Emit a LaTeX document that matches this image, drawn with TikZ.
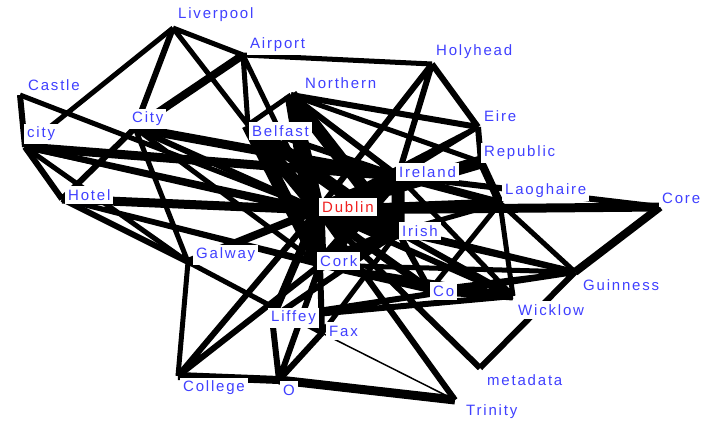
\documentclass[tikz,border=0pt]{standalone}
\usepackage{fontspec}
\newfontfamily\lblfont[LetterSpace=12]{Liberation Sans}
\usetikzlibrary{positioning}
\definecolor{lblblue}{RGB}{64,64,255}
\definecolor{lblred}{RGB}{240,32,32}
\tikzset{
  every picture/.style={line join=round},
  lbl/.style={fill=white,inner xsep=3pt,inner ysep=3.5pt,anchor=west,text=lblblue,font=\lblfont\fontsize{15}{18}\selectfont},
  hub/.style={lbl,text=lblred},
}
\begin{document}
\begin{tikzpicture}[x=1pt,y=-1pt]
\useasboundingbox(0,0)rectangle(706,423);
\coordinate(liverpool)at(173,28);
\coordinate(airport)at(243,55);
\coordinate(holyhead)at(432,64);
\coordinate(castle)at(20,95);
\coordinate(northern)at(291,95);
\coordinate(ucity)at(135,128);
\coordinate(lcity)at(25,147);
\coordinate(belfast)at(248,125);
\coordinate(eire)at(478,127);
\coordinate(republic)at(481,162);
\coordinate(ireland)at(398,176);
\coordinate(hotel)at(62,199);
\coordinate(laoghaire)at(500,203);
\coordinate(core)at(660,207);
\coordinate(dublin)at(318,210);
\coordinate(irish)at(398,232);
\coordinate(galway)at(188,262);
\coordinate(cork)at(320,265);
\coordinate(guinness)at(575,272);
\coordinate(co)at(430,290);
\coordinate(wicklow)at(513,296);
\coordinate(liffey)at(272,318);
\coordinate(fax)at(322,333);
\coordinate(college)at(178,376);
\coordinate(metadata)at(480,368);
\coordinate(o)at(279,380);
\coordinate(trinity)at(455,400);
\draw[line width=1.5pt](fax)--(trinity);
\draw[line width=5pt](liverpool)--(airport)(liverpool)--(belfast)(liverpool)--(lcity)
(airport)--(belfast)(airport)--(dublin)(airport)--(holyhead)(castle)--(dublin)
(ucity)--(galway)(lcity)--(galway)(hotel)--(cork)(northern)--(republic)
(republic)--(ireland)(eire)--(dublin)(eire)--(ireland)(laoghaire)--(wicklow)
(laoghaire)--(guinness)(laoghaire)--(co)(ireland)--(wicklow)(irish)--(laoghaire)
(irish)--(fax)(galway)--(college)(galway)--(fax)(cork)--(guinness)(co)--(guinness)
(northern)--(belfast)(hotel)--(co)(ucity)--(cork)(lcity)--(irish);
\draw[line width=6pt](liverpool)--(ucity)(castle)--(lcity)(lcity)--(hotel)
(lcity)--(dublin)(ucity)--(hotel)(ucity)--(dublin)(hotel)--(galway)
(northern)--(eire)(northern)--(ireland)(holyhead)--(eire)(holyhead)--(ireland)
(holyhead)--(dublin)(eire)--(republic)(belfast)--(ireland)(ireland)--(core)
(dublin)--(guinness)(dublin)--(wicklow)(dublin)--(college)(dublin)--(trinity)
(dublin)--(metadata)(irish)--(guinness)(irish)--(co)(irish)--(wicklow)
(irish)--(liffey)(cork)--(co)(cork)--(wicklow)(cork)--(fax)(cork)--(college)
(cork)--(o)(guinness)--(metadata)(liffey)--(o)(fax)--(o)(liffey)--(wicklow)
(liffey)--(guinness);
\draw[line width=8pt](airport)--(ucity)(republic)--(laoghaire)(ireland)--(laoghaire)
(dublin)--(galway)(dublin)--(liffey)(dublin)--(co)(guinness)--(core)(college)--(o);
\draw[line width=9pt](lcity)--(ireland)(ucity)--(ireland)(hotel)--(dublin)
(dublin)--(core)(dublin)--(laoghaire)(o)--(trinity)(co)--(wicklow);
\draw[line width=13pt](belfast)--(dublin)(northern)--(dublin)(ireland)--(dublin)
(dublin)--(irish)(dublin)--(cork)(belfast)--(cork)(northern)--(cork)
(northern)--(irish)(belfast)--(irish)(ireland)--(irish)(ireland)--(cork)
(irish)--(cork)(dublin)--(republic);
\node[lbl](liverpoolL)at(175,15){Liverpool};
\node[lbl](airportL)at(247,45){Airport};
\node[lbl](holyheadL)at(433,52){Holyhead};
\node[lbl](castleL)at(25,85){Castle};
\node[lbl](northernL)at(302,83){Northern};
\node[lbl](ucityL)at(129,119){City};
\node[lbl](lcityL)at(24,134){city};
\node[lbl](belfastL)at(249,131){Belfast};
\node[lbl](eireL)at(481,116){Eire};
\node[lbl](republicL)at(481,153){Republic};
\node[lbl](irelandL)at(396,172){Ireland};
\node[lbl](hotelL)at(65,195){Hotel};
\node[lbl](laoghaireL)at(502,191){Laoghaire};
\node[lbl](coreL)at(659,198){Core};
\node[hub](dublinL)at(319,207){Dublin};
\node[lbl](irishL)at(399,231){Irish};
\node[lbl](galwayL)at(193,255){Galway};
\node[lbl](corkL)at(317,261){Cork};
\node[lbl](guinnessL)at(580,285){Guinness};
\node[lbl](coL)at(430,291){Co};
\node[lbl](liffeyL)at(268,318){Liffey};
\node[lbl](wicklowL)at(515,310){Wicklow};
\node[lbl](faxL)at(326,331){Fax};
\node[lbl](collegeL)at(180,388){College};
\node[lbl](metadataL)at(484,380){metadata};
\node[lbl](oL)at(280,390){O};
\node[lbl](trinityL)at(463,412){Trinity};
\end{tikzpicture}
\end{document}
